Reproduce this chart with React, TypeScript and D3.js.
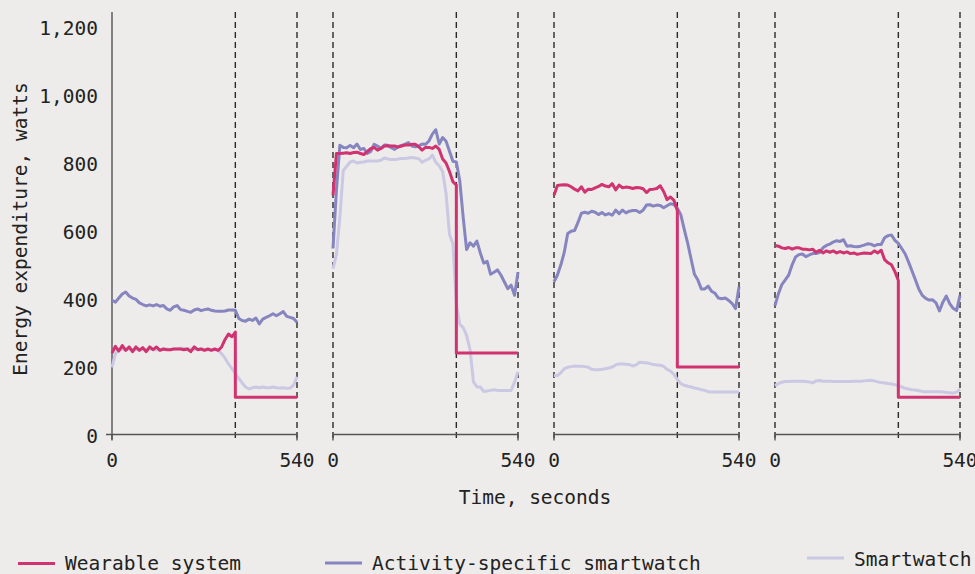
import * as d3 from "d3";

const width = 975;
const height = 574;

const background = "#edecea";
const wearableColor = "#d0336f";
const activityColor = "#8785bf";
const smartwatchColor = "#cac8e3";

// sample times, seconds
const times = d3.range(0, 541, 10);
// the wearable system steps down at 360 s, so that time appears twice
const wearableTimes = [...d3.range(0, 361, 10), ...d3.range(360, 541, 10)];
const phaseMarks = [0, 360, 540];
const xTicks = [0, 540];
const yTicks = [0, 200, 400, 600, 800, 1000, 1200];

// panel 1
const wearable1 = [
  240, 260, 246, 262, 248, 258, 244, 258, 248, 256,
  244, 258, 250, 258, 248, 252, 250, 250, 252, 252,
  252, 250, 252, 244, 258, 250, 252, 248, 252, 248,
  252, 248, 258, 280, 296, 288, 302,
  110, 110, 110, 110, 110, 110, 110, 110, 110, 110,
  110, 110, 110, 110, 110, 110, 110, 110, 110,
];
const activity1 = [
  395, 390, 402, 414, 420, 408, 402, 398, 388, 383,
  379, 382, 379, 383, 378, 380, 370, 366, 376, 380,
  368, 366, 363, 360, 367, 370, 365, 368, 370, 366,
  364, 363, 363, 364, 367, 367, 366, 342, 336, 334,
  340, 336, 343, 326, 340, 345, 350, 356, 350, 356,
  362, 348, 345, 342, 331,
];
const smartwatch1 = [
  198, 238, 250, 252, 250, 252, 250, 250, 252, 250,
  250, 252, 250, 250, 250, 252, 252, 250, 252, 252,
  254, 254, 252, 252, 250, 252, 252, 250, 250, 250,
  250, 248, 238, 225, 208, 194, 180, 165, 152, 140,
  134, 138, 140, 138, 140, 138, 138, 140, 138, 137,
  138, 136, 137, 145, 170,
];

// panel 2
const wearable2 = [
  705, 828, 828, 829, 830, 828, 831, 832, 828, 825,
  834, 842, 846, 838, 843, 850, 851, 850, 850, 847,
  850, 853, 853, 855, 855, 848, 838, 846, 846, 843,
  850, 840, 812, 800, 775, 745, 735,
  240, 240, 240, 240, 240, 240, 240, 240, 240, 240,
  240, 240, 240, 240, 240, 240, 240, 240, 240,
];
const activity2 = [
  548, 720, 852, 846, 845, 852, 845, 856, 840, 843,
  828, 834, 855, 850, 843, 853, 852, 845, 840, 848,
  852, 855, 860, 850, 848, 850, 856, 855, 865, 885,
  898, 856, 875, 864, 835, 805, 803, 748, 640, 545,
  565, 555, 570, 535, 505, 510, 472, 478, 485, 470,
  450, 430, 440, 410, 478,
];
const smartwatch2 = [
  489, 530, 640, 778, 790, 803, 806, 800, 802, 803,
  806, 806, 806, 806, 808, 815, 812, 810, 810, 812,
  813, 813, 815, 816, 815, 813, 802, 808, 812, 823,
  802, 792, 775, 710, 590, 562, 385, 325, 315, 292,
  250, 155, 140, 140, 127, 128, 130, 132, 130, 130,
  130, 130, 130, 155, 185,
];

// panel 3
const wearable3 = [
  705, 734, 735, 736, 735, 730, 723, 718, 730, 714,
  723, 722, 727, 731, 737, 732, 730, 739, 721, 735,
  727, 729, 728, 725, 728, 727, 724, 713, 722, 723,
  725, 733, 716, 692, 700, 690, 660,
  199, 199, 199, 199, 199, 199, 199, 199, 199, 199,
  199, 199, 199, 199, 199, 199, 199, 199, 199,
];
const activity3 = [
  450, 470, 500, 537, 592, 599, 601, 625, 652, 655,
  652, 658, 655, 648, 654, 647, 651, 646, 661, 651,
  661, 653, 658, 660, 660, 654, 661, 676, 677, 673,
  676, 675, 668, 674, 680, 678, 667, 648, 605, 565,
  518, 472, 455, 429, 429, 437, 422, 416, 402, 400,
  402, 395, 386, 371, 435,
];
const smartwatch3 = [
  174, 174, 182, 194, 198, 200, 202, 201, 201, 200,
  198, 192, 191, 191, 192, 194, 196, 199, 205, 208,
  208, 207, 206, 202, 205, 213, 212, 211, 209, 206,
  205, 204, 201, 192, 187, 177, 162, 150, 145, 142,
  140, 137, 135, 132, 130, 126, 125, 125, 125, 125,
  125, 125, 125, 125, 125,
];

// panel 4
const wearable4 = [
  557, 555, 550, 548, 551, 546, 550, 550, 546, 546,
  544, 546, 537, 543, 535, 541, 537, 541, 535, 539,
  535, 538, 533, 535, 531, 533, 535, 534, 533, 541,
  535, 543, 515, 506, 500, 480, 454,
  110, 110, 110, 110, 110, 110, 110, 110, 110, 110,
  110, 110, 110, 110, 110, 110, 110, 110, 110,
];
const activity4 = [
  380, 415, 442, 456, 470, 500, 523, 530, 532, 524,
  529, 533, 533, 536, 550, 557, 561, 567, 571, 569,
  574, 555, 556, 554, 553, 555, 558, 562, 561, 556,
  560, 560, 580, 586, 588, 572, 563, 548, 532, 508,
  482, 455, 428, 410, 401, 396, 397, 388, 364, 390,
  408, 386, 372, 365, 410,
];
const smartwatch4 = [
  144, 150, 154, 156, 156, 157, 157, 157, 157, 156,
  155, 152, 158, 159, 157, 157, 157, 156, 156, 156,
  156, 156, 156, 157, 157, 157, 158, 159, 160, 158,
  155, 153, 152, 150, 149, 147, 144, 140, 136, 134,
  132, 131, 129, 127, 126, 126, 126, 126, 126, 125,
  124, 123, 122, 125, 134,
];

const panels = [
  { wearable: wearable1, activity: activity1, smartwatch: smartwatch1 },
  { wearable: wearable2, activity: activity2, smartwatch: smartwatch2 },
  { wearable: wearable3, activity: activity3, smartwatch: smartwatch3 },
  { wearable: wearable4, activity: activity4, smartwatch: smartwatch4 },
];

const legendItems = [
  { label: "Wearable system", color: wearableColor, x: 18, y: 563.5, baseline: 570 },
  { label: "Activity-specific smartwatch", color: activityColor, x: 325, y: 563, baseline: 570 },
  { label: "Smartwatch", color: smartwatchColor, x: 807, y: 558, baseline: 566 },
];

const panelLeft = 112;
const panelWidth = 185;
const panelStep = 221;
const plotTop = 12;
const plotBottom = 434.5;
const fontSize = 19.5;
const font = "'DejaVu Sans Mono', 'Liberation Mono', monospace";

const y = d3.scaleLinear().domain([0, 1245]).range([plotBottom, plotTop]);

const pair = (ts: number[], vs: number[]) =>
  vs.map((v, i) => [ts[i], v] as [number, number]);

const Panel = ({ index, data }: { index: number; data: typeof panels[0] }) => {
  const x0 = panelLeft + index * panelStep;
  const x = d3.scaleLinear().domain([0, 540]).range([x0, x0 + panelWidth]);
  const line = d3
    .line<[number, number]>()
    .x((d) => x(d[0]))
    .y((d) => y(d[1]));

  const marks = index === 0 ? phaseMarks.slice(1) : phaseMarks;

  return (
    <g>
      {marks.map((m) => (
        <line
          key={m}
          x1={x(m)}
          x2={x(m)}
          y1={plotTop}
          y2={plotBottom + 6}
          stroke="#2b2b2b"
          strokeWidth={1.4}
          strokeDasharray="6,4"
        />
      ))}
      <line
        x1={x(0) - (index === 0 ? 6 : 0)}
        x2={x(540)}
        y1={plotBottom}
        y2={plotBottom}
        stroke="#555"
        strokeWidth={1.4}
      />
      {xTicks.map((t) => (
        <g key={t}>
          <line x1={x(t)} x2={x(t)} y1={plotBottom} y2={plotBottom + 6} stroke="#555" strokeWidth={1.4} />
          <text x={x(t)} y={466.5} textAnchor="middle" fontSize={fontSize} fill="#222">
            {t}
          </text>
        </g>
      ))}
      {index === 0 && (
        <g>
          <line x1={x(0)} x2={x(0)} y1={plotTop} y2={plotBottom + 5} stroke="#555" strokeWidth={1.4} />
          {yTicks.map((t) => (
            <text
              key={t}
              x={98}
              y={y(t)}
              dy="0.42em"
              textAnchor="end"
              fontSize={fontSize}
              fill="#222"
            >
              {d3.format(",")(t)}
            </text>
          ))}
        </g>
      )}
      <path
        d={line(pair(times, data.smartwatch)) || ""}
        fill="none"
        stroke={smartwatchColor}
        strokeWidth={3}
        strokeLinejoin="round"
      />
      <path
        d={line(pair(times, data.activity)) || ""}
        fill="none"
        stroke={activityColor}
        strokeWidth={3}
        strokeLinejoin="round"
      />
      <path
        d={line(pair(wearableTimes, data.wearable)) || ""}
        fill="none"
        stroke={wearableColor}
        strokeWidth={3}
        strokeLinejoin="round"
      />
    </g>
  );
};

export default function App() {
  return (
    <div style={{ position: "absolute", left: 0, top: 0 }}>
      <svg width={width} height={height} style={{ display: "block" }} fontFamily={font}>
        <rect width={width} height={height} fill={background} />
        {panels.map((p, i) => (
          <Panel key={i} index={i} data={p} />
        ))}
        <text x={535} y={504} textAnchor="middle" fontSize={fontSize} fill="#222">
          Time, seconds
        </text>
        <text
          transform="translate(27,229) rotate(-90)"
          textAnchor="middle"
          fontSize={fontSize}
          fill="#222"
        >
          Energy expenditure, watts
        </text>
        {legendItems.map((d) => (
          <g key={d.label}>
            <line x1={d.x} x2={d.x + 37} y1={d.y} y2={d.y} stroke={d.color} strokeWidth={3} />
            <text x={d.x + 47} y={d.baseline} fontSize={fontSize} fill="#222">
              {d.label}
            </text>
          </g>
        ))}
      </svg>
    </div>
  );
}
